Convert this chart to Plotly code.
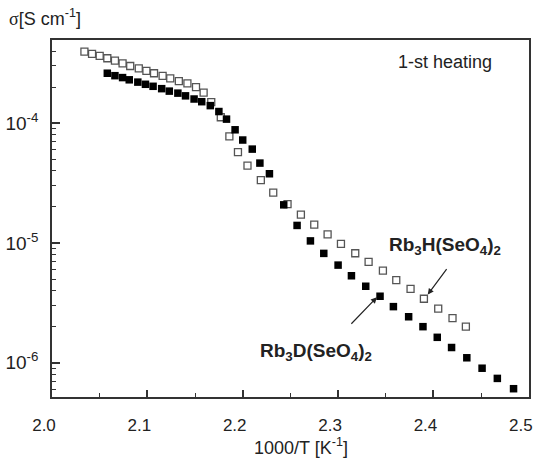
import numpy as np
import plotly.graph_objects as go

# Rb3H(SeO4)2 - open squares
h_x = [2.034, 2.042, 2.050, 2.058, 2.066, 2.074, 2.082, 2.091, 2.099, 2.107,
       2.116, 2.124, 2.133, 2.142, 2.151, 2.159, 2.167, 2.177, 2.186, 2.195,
       2.205, 2.219, 2.232, 2.247, 2.261, 2.275, 2.289, 2.303, 2.318, 2.332,
       2.347, 2.361, 2.376, 2.390, 2.405, 2.420, 2.434]
h_y = [3.96e-4, 3.78e-4, 3.64e-4, 3.48e-4, 3.33e-4, 3.16e-4, 3.00e-4, 2.87e-4, 2.73e-4, 2.61e-4,
       2.48e-4, 2.36e-4, 2.24e-4, 2.15e-4, 2.00e-4, 1.80e-4, 1.50e-4, 1.12e-4, 7.76e-5, 5.73e-5,
       4.42e-5, 3.34e-5, 2.63e-5, 2.11e-5, 1.72e-5, 1.42e-5, 1.18e-5, 9.83e-6, 8.20e-6, 6.95e-6,
       5.88e-6, 4.90e-6, 4.14e-6, 3.42e-6, 2.83e-6, 2.36e-6, 2.00e-6]

# Rb3D(SeO4)2 - filled squares
d_x = [2.058, 2.066, 2.074, 2.081, 2.090, 2.098, 2.106, 2.115, 2.123, 2.132,
       2.140, 2.149, 2.157, 2.166, 2.175, 2.183, 2.192, 2.200, 2.210, 2.218,
       2.228, 2.243, 2.257, 2.271, 2.285, 2.300, 2.314, 2.329, 2.344, 2.358,
       2.374, 2.389, 2.404, 2.419, 2.435, 2.451, 2.467, 2.484]
d_y = [2.61e-4, 2.49e-4, 2.40e-4, 2.30e-4, 2.20e-4, 2.11e-4, 2.03e-4, 1.94e-4, 1.85e-4, 1.78e-4,
       1.69e-4, 1.59e-4, 1.51e-4, 1.40e-4, 1.25e-4, 1.08e-4, 8.80e-5, 7.23e-5, 6.07e-5, 4.64e-5,
       3.78e-5, 2.08e-5, 1.40e-5, 1.04e-5, 8.18e-6, 6.53e-6, 5.32e-6, 4.35e-6, 3.59e-6, 2.94e-6,
       2.42e-6, 2.00e-6, 1.63e-6, 1.34e-6, 1.10e-6, 9.00e-7, 7.40e-7, 6.07e-7]

x_ticks = [2.0, 2.1, 2.2, 2.3, 2.4, 2.5]
x_ticktext = ["2.0", "2.1", "2.2", "2.3", "2.4", "2.5"]
y_ticks = [1e-6, 1e-5, 1e-4]
y_ticktext = ["10<sup>-6</sup>", "10<sup>-5</sup>", "10<sup>-4</sup>"]

FONT = "Liberation Sans, Arial, sans-serif"
AX = "#333333"

fig = go.Figure()
fig.add_trace(go.Scatter(x=h_x, y=h_y, mode="markers", name="Rb3H(SeO4)2",
                         marker=dict(symbol="square-open", size=7, color="#555555",
                                     line=dict(width=1.3, color="#555555"))))
fig.add_trace(go.Scatter(x=d_x, y=d_y, mode="markers", name="Rb3D(SeO4)2",
                         marker=dict(symbol="square", size=7.5, color="#000000")))

y_minor = [m * 10.0 ** e for e in (-7, -6, -5, -4) for m in range(2, 10)]
y_minor = [v for v in y_minor if 5.2e-7 < v < 4.9e-4]
x_minor = [2.05, 2.15, 2.25, 2.35, 2.45]

fig.update_xaxes(range=[2.0, 2.5002], tickmode="array", tickvals=x_ticks, ticktext=x_ticktext,
                 ticks="inside", ticklen=7, tickwidth=1.5, tickcolor=AX,
                 minor=dict(ticks="inside", ticklen=4, tickwidth=1.2, tickcolor=AX, tickvals=x_minor),
                 showline=True, linecolor=AX, linewidth=1.5, mirror=True,
                 showgrid=False, zeroline=False, automargin=False,
                 ticklabelshift=-8, ticklabelstandoff=12,
                 tickfont=dict(family=FONT, size=17, color="#222"))
fig.update_yaxes(type="log", range=[-6.286, -3.306], tickmode="array", tickvals=y_ticks,
                 ticktext=y_ticktext,
                 ticks="inside", ticklen=8, tickwidth=1.5, tickcolor=AX,
                 minor=dict(ticks="inside", ticklen=4, tickwidth=1.2, tickcolor=AX, tickvals=y_minor),
                 showline=True, linecolor=AX, linewidth=1.5, mirror=True,
                 showgrid=False, zeroline=False, automargin=False,
                 ticklabelstandoff=8,
                 tickfont=dict(family=FONT, size=19, color="#222"))

ann = []
ann.append(dict(x=2.412, y=-3.489, xref="x", yref="y", text="1-st heating", showarrow=False,
                font=dict(family=FONT, size=18, color="#222"), xanchor="center", yanchor="middle"))
ann.append(dict(x=2.412, y=-5.028, xref="x", yref="y", text="<b>Rb<sub>3</sub>H(SeO<sub>4</sub>)<sub>2</sub></b>",
                showarrow=False, font=dict(family=FONT, size=19, color="#222"),
                xanchor="center", yanchor="middle"))
ann.append(dict(x=2.277, y=-5.914, xref="x", yref="y", text="<b>Rb<sub>3</sub>D(SeO<sub>4</sub>)<sub>2</sub></b>",
                showarrow=False, font=dict(family=FONT, size=19, color="#222"),
                xanchor="center", yanchor="middle"))
# arrows
ann.append(dict(x=2.394, y=np.log10(3.71e-6), xref="x", yref="y", text="", showarrow=True,
                ax=20, ay=-27, arrowhead=2, arrowsize=1, arrowwidth=1.2, arrowcolor="#222"))
ann.append(dict(x=2.3407, y=np.log10(3.52e-6), xref="x", yref="y", text="", showarrow=True,
                ax=-27, ay=28, arrowhead=2, arrowsize=1, arrowwidth=1.2, arrowcolor="#222"))
# axis titles
ann.append(dict(x=-0.094, y=1.062, xref="paper", yref="paper",
                text="<span style=\"font-family:'Liberation Serif'\">σ</span>[S cm<sup>-1</sup>]",
                showarrow=False, font=dict(family=FONT, size=18, color="#222"),
                xanchor="left", yanchor="middle"))
ann.append(dict(x=0.522, y=-0.138, xref="paper", yref="paper", text="1000/T [K<sup>-1</sup>]",
                showarrow=False, font=dict(family=FONT, size=18, color="#222"),
                xanchor="center", yanchor="middle"))

fig.update_layout(width=536, height=464, margin=dict(l=52, r=7, t=40, b=67),
                  plot_bgcolor="white", paper_bgcolor="white", showlegend=False,
                  annotations=ann)

fig.write_html("out.html", config={"displayModeBar": False},
               post_script="document.body.style.margin='0';document.body.style.padding='0';")
